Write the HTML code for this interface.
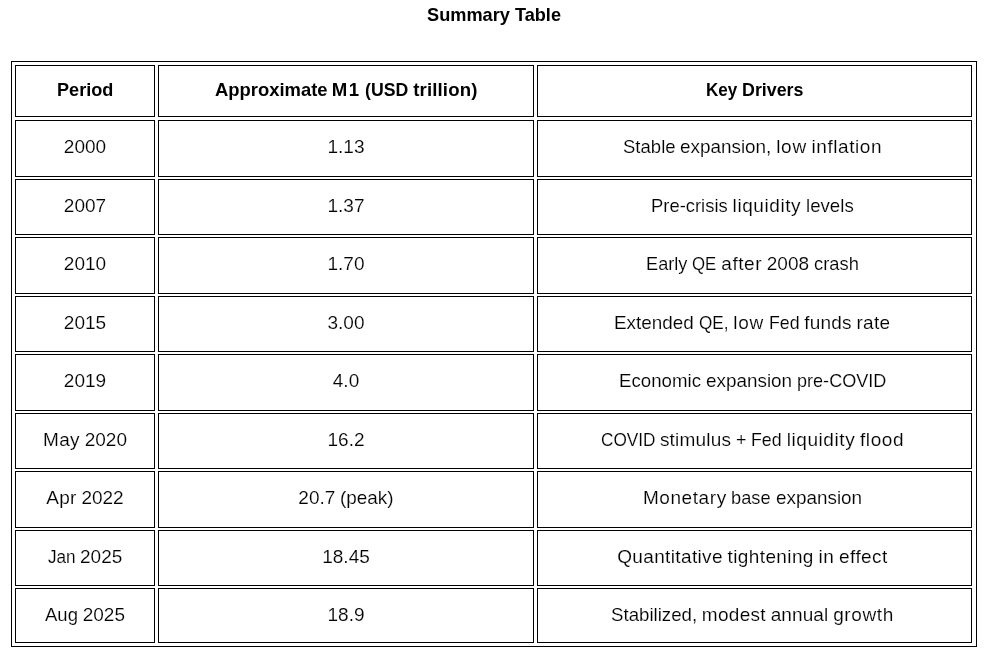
<!DOCTYPE html>
<html lang="en">
<head>
<meta charset="utf-8">
<title>Summary Table</title>
<style>html,body{margin:0;padding:0;background:#fff;}
body{width:985px;height:662px;position:relative;overflow:hidden;font-family:"Liberation Sans",sans-serif;color:#000;}
h1{position:absolute;left:1.5px;top:0;width:985px;margin:0;padding:4px 0 0;text-align:center;font-size:18.6px;line-height:22px;font-weight:bold;white-space:nowrap;word-spacing:-0.45px;}
table{display:block;position:absolute;left:11px;top:61px;width:966px;height:586px;box-sizing:border-box;border:1px solid #000;margin:0;padding:0;}
thead,tbody,tr{display:contents;}
th,td{display:block;position:absolute;box-sizing:border-box;border:1px solid #000;margin:0;padding:15px 0 0;text-align:center;font-size:19px;line-height:22px;white-space:nowrap;font-weight:normal;word-spacing:-0.55px;overflow:hidden;}
th{font-weight:bold;font-size:18.6px;padding-top:13px;word-spacing:-0.45px;}
td{-webkit-text-stroke:0.15px #fff;}
td.c2{padding-right:4.2px;}
span{display:inline-block;}
.w{transform-origin:0 50%;}
.r0>*{top:3px;height:52px;}
.r1>*{top:58px;height:57px;}
.r2>*{top:117px;height:56px;}
.r3>*{top:175px;height:57px;}
.r4>*{top:234px;height:56px;}
.r5>*{top:292px;height:57px;}
.r6>*{top:351px;height:56px;}
.r7>*{top:409px;height:57px;}
.r8>*{top:468px;height:56px;}
.r9>*{top:526px;height:55px;}
.c0{left:3px;width:140px;}
.c1{left:146px;width:376px;}
.c2{left:525px;width:435px;}
</style>
</head>
<body>
<h1><span class="w" style="transform:scaleX(0.9779);margin-right:-1.88px">Summary</span> <span class="w" style="transform:scaleX(0.9742);margin-right:-1.22px">Table</span></h1>
<table>
<thead>
<tr class="r0">
<th class="c0"><span class="w" style="transform:scaleX(0.9735);margin-right:-1.53px">Period</span></th>
<th class="c1"><span class="w" style="transform:scaleX(0.9898);margin-right:-1.16px">Approximate</span> <span style="letter-spacing:1.516px">M1</span> <span class="w" style="transform:scaleX(0.9512);margin-right:-2.22px">(USD</span> <span style="letter-spacing:0.134px">trillion)</span></th>
<th class="c2"><span class="w" style="transform:scaleX(0.9171);margin-right:-2.83px">Key</span> <span class="w" style="transform:scaleX(0.9593);margin-right:-2.61px">Drivers</span></th>
</tr>
</thead>
<tbody>
<tr class="r1">
<td class="c0">2000</td>
<td class="c1">1.13</td>
<td class="c2"><span class="w" style="transform:scaleX(0.9756);margin-right:-1.31px">Stable</span> <span class="w" style="transform:scaleX(0.9937);margin-right:-0.58px">expansion,</span> <span style="letter-spacing:0.724px">low</span> <span style="letter-spacing:0.552px">inflation</span></td>
</tr>
<tr class="r2">
<td class="c0">2007</td>
<td class="c1">1.37</td>
<td class="c2"><span class="w" style="transform:scaleX(0.9688);margin-right:-2.47px">Pre-crisis</span> <span style="letter-spacing:0.582px">liquidity</span> <span class="w" style="transform:scaleX(0.9823);margin-right:-0.86px">levels</span></td>
</tr>
<tr class="r3">
<td class="c0">2010</td>
<td class="c1">1.70</td>
<td class="c2"><span class="w" style="transform:scaleX(0.9571);margin-right:-1.86px">Early</span> <span class="w" style="transform:scaleX(0.8845);margin-right:-3.17px">QE</span> <span style="letter-spacing:0.544px">after</span> 2008 <span class="w" style="transform:scaleX(0.9657);margin-right:-1.59px">crash</span></td>
</tr>
<tr class="r4">
<td class="c0">2015</td>
<td class="c1">3.00</td>
<td class="c2"><span class="w" style="transform:scaleX(0.9946);margin-right:-0.44px">Extended</span> <span class="w" style="transform:scaleX(0.9012);margin-right:-3.23px">QE,</span> <span style="letter-spacing:0.724px">low</span> <span class="w" style="transform:scaleX(0.937);margin-right:-2.06px">Fed</span> <span style="letter-spacing:0.206px">funds</span> <span style="letter-spacing:0.281px">rate</span></td>
</tr>
<tr class="r5">
<td class="c0">2019</td>
<td class="c1">4.0</td>
<td class="c2"><span class="w" style="transform:scaleX(0.9826);margin-right:-1.45px">Economic</span> <span class="w" style="transform:scaleX(0.994);margin-right:-0.52px">expansion</span> <span class="w" style="transform:scaleX(0.9508);margin-right:-4.62px">pre-COVID</span></td>
</tr>
<tr class="r6">
<td class="c0"><span style="letter-spacing:0.354px">May</span> 2020</td>
<td class="c1">16.2</td>
<td class="c2"><span class="w" style="transform:scaleX(0.9063);margin-right:-5.64px">COVID</span> <span style="letter-spacing:0.213px">stimulus</span> <span class="w" style="transform:scaleX(0.9381);margin-right:-0.69px">+</span> <span class="w" style="transform:scaleX(0.937);margin-right:-2.06px">Fed</span> <span style="letter-spacing:0.582px">liquidity</span> <span style="letter-spacing:0.603px">flood</span></td>
</tr>
<tr class="r7">
<td class="c0"><span style="letter-spacing:0.266px">Apr</span> 2022</td>
<td class="c1">20.7 <span class="w" style="transform:scaleX(0.9951);margin-right:-0.27px">(peak)</span></td>
<td class="c2"><span style="letter-spacing:0.574px">Monetary</span> <span class="w" style="transform:scaleX(0.9606);margin-right:-1.62px">base</span> <span class="w" style="transform:scaleX(0.994);margin-right:-0.52px">expansion</span></td>
</tr>
<tr class="r8">
<td class="c0"><span class="w" style="transform:scaleX(0.9031);margin-right:-2.97px">Jan</span> 2025</td>
<td class="c1">18.45</td>
<td class="c2"><span style="letter-spacing:0.355px">Quantitative</span> <span style="letter-spacing:0.381px">tightening</span> <span style="letter-spacing:0.5px">in</span> <span style="letter-spacing:0.393px">effect</span></td>
</tr>
<tr class="r9">
<td class="c0"><span class="w" style="transform:scaleX(0.9737);margin-right:-0.89px">Aug</span> 2025</td>
<td class="c1">18.9</td>
<td class="c2"><span class="w" style="transform:scaleX(0.9825);margin-right:-1.53px">Stabilized,</span> <span style="letter-spacing:0.292px">modest</span> <span style="letter-spacing:0.12px">annual</span> <span style="letter-spacing:0.615px">growth</span></td>
</tr>
</tbody>
</table>
</body>
</html>
